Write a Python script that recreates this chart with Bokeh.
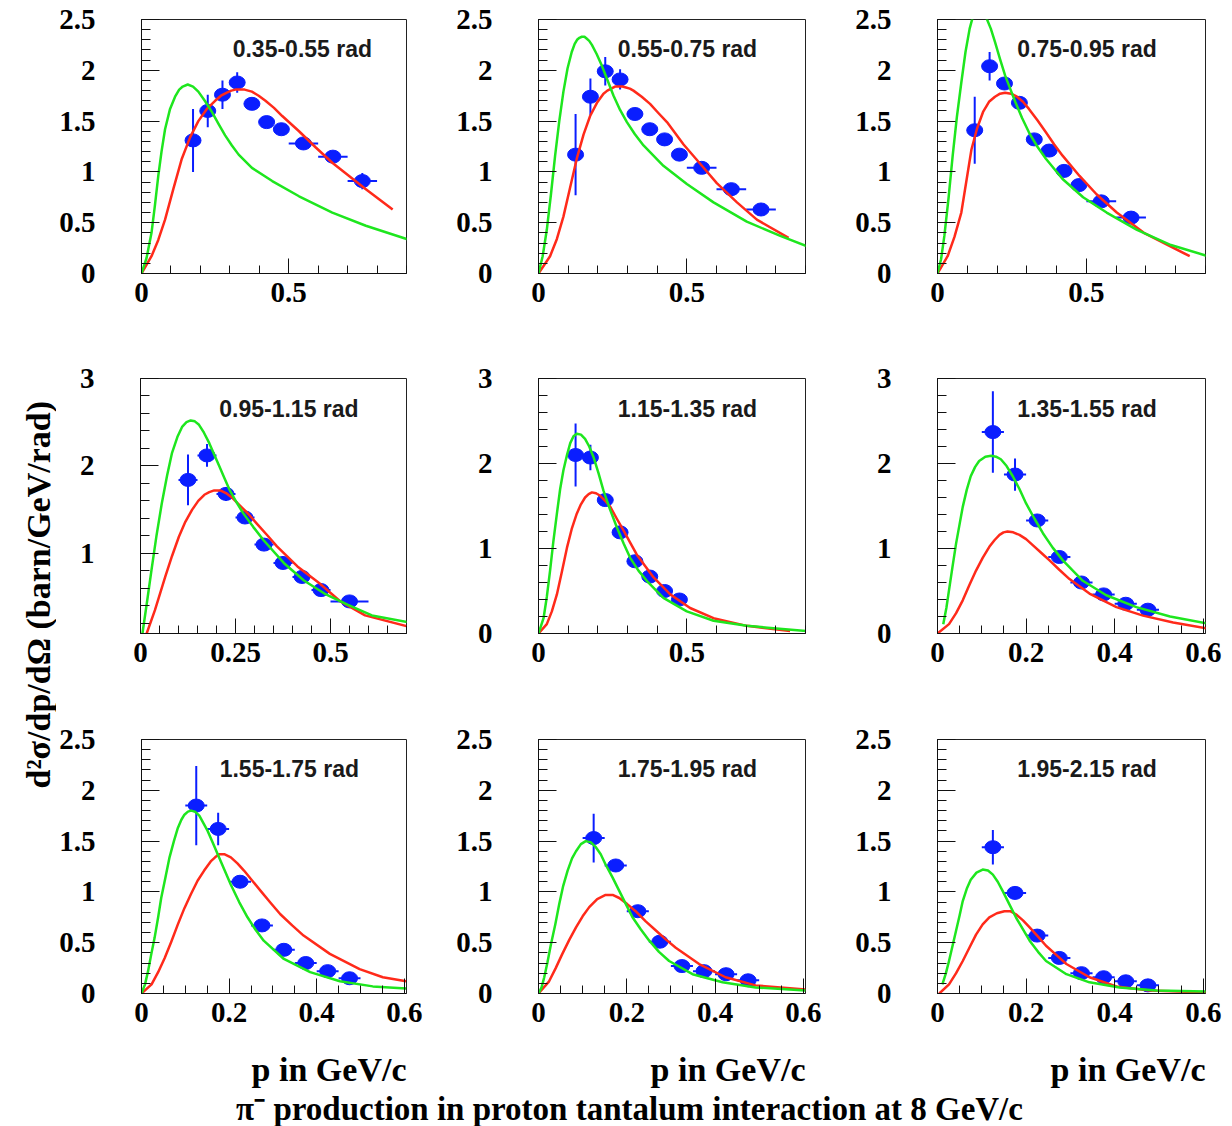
import math
from bokeh.plotting import figure
from bokeh.models import Range1d, FixedTicker, PrintfTickFormatter, Label
from bokeh.layouts import row, column
from bokeh.embed import file_html
from bokeh.resources import INLINE

# ---------------- text ----------------
angle_labels = ["0.35-0.55 rad", "0.55-0.75 rad", "0.75-0.95 rad",
                "0.95-1.15 rad", "1.15-1.35 rad", "1.35-1.55 rad",
                "1.55-1.75 rad", "1.75-1.95 rad", "1.95-2.15 rad"]
x_title = "p in GeV/c"
y_title = "d\u00b2\u03c3/dp/d\u03a9  (barn/GeV/rad)"
main_title = "\u03c0\u207b production in proton tantalum interaction at 8 GeV/c"

# ---------------- tick values ----------------
xticks_a = [0, 0.5]
xticks_b = [0, 0.25, 0.5]
xticks_c = [0, 0.2, 0.4, 0.6]
yticks_a = [0, 0.5, 1, 1.5, 2, 2.5]
yticks_b = [0, 1, 2, 3]

# ---------------- panel 1 : 0.35-0.55 rad ----------------
p1_x = [0.175, 0.225, 0.275, 0.325, 0.375, 0.425, 0.475, 0.55, 0.65, 0.75]
p1_y = [1.31, 1.60, 1.76, 1.88, 1.67, 1.49, 1.42, 1.28, 1.15, 0.91]
p1_ey = [0.31, 0.16, 0.14, 0.10, 0.06, 0.05, 0.05, 0.05, 0.06, 0.08]
p1_ex = [0.025, 0.025, 0.025, 0.025, 0.025, 0.025, 0.025, 0.05, 0.05, 0.05]
p1_gx = [0.0, 0.017, 0.034, 0.046, 0.057, 0.068, 0.080, 0.097, 0.114, 0.128, 0.140, 0.157, 0.175, 0.193, 0.215, 0.239, 0.262, 0.284, 0.307, 0.330, 0.375, 0.444, 0.535, 0.648, 0.762, 0.910]
p1_gy = [0.0, 0.15, 0.40, 0.68, 0.96, 1.20, 1.42, 1.62, 1.74, 1.81, 1.84, 1.86, 1.84, 1.79, 1.70, 1.59, 1.47, 1.36, 1.26, 1.17, 1.04, 0.91, 0.76, 0.60, 0.47, 0.33]
p1_rx = [0.0, 0.034, 0.057, 0.080, 0.108, 0.137, 0.165, 0.193, 0.222, 0.250, 0.270, 0.290, 0.305, 0.319, 0.335, 0.350, 0.375, 0.398, 0.421, 0.450, 0.478, 0.535, 0.592, 0.648, 0.705, 0.762, 0.853]
p1_ry = [0.0, 0.17, 0.33, 0.53, 0.83, 1.13, 1.34, 1.50, 1.62, 1.70, 1.75, 1.78, 1.80, 1.81, 1.81, 1.81, 1.79, 1.75, 1.70, 1.63, 1.55, 1.40, 1.24, 1.09, 0.96, 0.83, 0.63]

# ---------------- panel 2 : 0.55-0.75 rad ----------------
p2_x = [0.125, 0.175, 0.225, 0.275, 0.325, 0.375, 0.425, 0.475, 0.55, 0.65, 0.75]
p2_y = [1.17, 1.74, 1.99, 1.91, 1.57, 1.42, 1.32, 1.17, 1.04, 0.83, 0.63]
p2_ey = [0.40, 0.18, 0.14, 0.10, 0.06, 0.05, 0.05, 0.05, 0.05, 0.06, 0.06]
p2_ex = [0.025, 0.025, 0.025, 0.025, 0.025, 0.025, 0.025, 0.025, 0.05, 0.05, 0.05]
p2_gx = [0.0, 0.014, 0.028, 0.042, 0.056, 0.070, 0.084, 0.098, 0.112, 0.122, 0.130, 0.138, 0.146, 0.155, 0.163, 0.171, 0.180, 0.196, 0.213, 0.233, 0.253, 0.275, 0.298, 0.325, 0.354, 0.421, 0.500, 0.590, 0.702, 0.815, 0.904]
p2_gy = [0.0, 0.17, 0.43, 0.78, 1.16, 1.50, 1.79, 2.02, 2.18, 2.26, 2.30, 2.32, 2.33, 2.33, 2.31, 2.29, 2.25, 2.16, 2.05, 1.90, 1.75, 1.61, 1.49, 1.37, 1.26, 1.06, 0.88, 0.70, 0.51, 0.37, 0.27]
p2_rx = [0.0, 0.039, 0.062, 0.084, 0.106, 0.129, 0.152, 0.174, 0.197, 0.219, 0.232, 0.245, 0.258, 0.270, 0.283, 0.295, 0.308, 0.320, 0.348, 0.376, 0.404, 0.433, 0.461, 0.489, 0.545, 0.601, 0.669, 0.736, 0.843]
p2_ry = [0.0, 0.17, 0.34, 0.56, 0.84, 1.13, 1.37, 1.55, 1.68, 1.77, 1.80, 1.82, 1.84, 1.84, 1.84, 1.83, 1.82, 1.80, 1.74, 1.67, 1.58, 1.49, 1.38, 1.27, 1.08, 0.89, 0.70, 0.53, 0.35]

# ---------------- panel 3 : 0.75-0.95 rad ----------------
p3_x = [0.125, 0.175, 0.225, 0.275, 0.325, 0.375, 0.425, 0.475, 0.55, 0.65]
p3_y = [1.41, 2.04, 1.87, 1.68, 1.32, 1.21, 1.01, 0.87, 0.71, 0.55]
p3_ey = [0.33, 0.14, 0.06, 0.05, 0.05, 0.05, 0.05, 0.05, 0.05, 0.05]
p3_ex = [0.025, 0.025, 0.025, 0.025, 0.025, 0.025, 0.025, 0.025, 0.05, 0.05]
p3_gx = [0.0, 0.012, 0.023, 0.037, 0.051, 0.065, 0.080, 0.094, 0.108, 0.118, 0.128, 0.137, 0.145, 0.155, 0.165, 0.179, 0.193, 0.210, 0.227, 0.244, 0.261, 0.284, 0.307, 0.335, 0.364, 0.420, 0.489, 0.568, 0.670, 0.784, 0.909]
p3_gy = [0.0, 0.14, 0.37, 0.74, 1.16, 1.54, 1.88, 2.18, 2.41, 2.52, 2.58, 2.61, 2.62, 2.58, 2.51, 2.41, 2.28, 2.11, 1.95, 1.82, 1.69, 1.53, 1.39, 1.25, 1.13, 0.93, 0.75, 0.60, 0.43, 0.28, 0.17]
p3_rx = [0.0, 0.034, 0.057, 0.080, 0.097, 0.114, 0.133, 0.153, 0.173, 0.193, 0.210, 0.227, 0.247, 0.267, 0.287, 0.307, 0.335, 0.364, 0.392, 0.420, 0.477, 0.534, 0.602, 0.693, 0.847]
p3_ry = [0.0, 0.17, 0.36, 0.60, 0.91, 1.22, 1.43, 1.59, 1.69, 1.74, 1.77, 1.78, 1.77, 1.74, 1.69, 1.62, 1.51, 1.39, 1.27, 1.16, 0.96, 0.78, 0.60, 0.40, 0.17]

# ---------------- panel 4 : 0.95-1.15 rad ----------------
p4_x = [0.125, 0.175, 0.225, 0.275, 0.325, 0.375, 0.425, 0.475, 0.55]
p4_y = [1.84, 2.12, 1.68, 1.41, 1.10, 0.89, 0.73, 0.58, 0.45]
p4_ey = [0.29, 0.13, 0.08, 0.06, 0.05, 0.05, 0.05, 0.05, 0.05]
p4_ex = [0.025, 0.025, 0.025, 0.025, 0.025, 0.025, 0.025, 0.025, 0.05]
p4_gx = [0.005, 0.017, 0.029, 0.042, 0.056, 0.070, 0.083, 0.097, 0.110, 0.121, 0.132, 0.143, 0.154, 0.167, 0.181, 0.195, 0.208, 0.221, 0.234, 0.252, 0.270, 0.297, 0.324, 0.377, 0.430, 0.484, 0.546, 0.609, 0.707]
p4_gy = [0.08, 0.44, 0.81, 1.20, 1.57, 1.89, 2.15, 2.33, 2.45, 2.50, 2.52, 2.51, 2.47, 2.38, 2.26, 2.12, 1.99, 1.86, 1.73, 1.59, 1.46, 1.30, 1.15, 0.89, 0.69, 0.54, 0.41, 0.29, 0.21]
p4_rx = [0.016, 0.038, 0.065, 0.083, 0.101, 0.118, 0.136, 0.152, 0.168, 0.181, 0.194, 0.210, 0.225, 0.243, 0.261, 0.284, 0.306, 0.333, 0.359, 0.413, 0.470, 0.523, 0.591, 0.707]
p4_ry = [0.08, 0.35, 0.73, 0.97, 1.19, 1.36, 1.50, 1.60, 1.67, 1.70, 1.72, 1.72, 1.69, 1.63, 1.55, 1.45, 1.34, 1.21, 1.08, 0.85, 0.66, 0.46, 0.29, 0.16]

# ---------------- panel 5 : 1.15-1.35 rad ----------------
p5_x = [0.125, 0.175, 0.225, 0.275, 0.325, 0.375, 0.425, 0.475]
p5_y = [2.10, 2.07, 1.57, 1.19, 0.85, 0.67, 0.50, 0.40]
p5_ey = [0.37, 0.15, 0.06, 0.05, 0.05, 0.05, 0.05, 0.05]
p5_ex = [0.025, 0.025, 0.025, 0.025, 0.025, 0.025, 0.025, 0.025]
p5_gx = [0.0, 0.017, 0.028, 0.039, 0.050, 0.062, 0.073, 0.084, 0.096, 0.107, 0.118, 0.129, 0.143, 0.157, 0.171, 0.185, 0.202, 0.219, 0.241, 0.264, 0.287, 0.309, 0.337, 0.365, 0.421, 0.500, 0.590, 0.702, 0.904]
p5_gy = [0.0, 0.18, 0.43, 0.74, 1.08, 1.41, 1.70, 1.92, 2.10, 2.24, 2.32, 2.35, 2.34, 2.29, 2.20, 2.08, 1.89, 1.68, 1.46, 1.25, 1.06, 0.89, 0.74, 0.62, 0.42, 0.26, 0.15, 0.09, 0.03]
p5_rx = [0.0, 0.028, 0.045, 0.062, 0.079, 0.096, 0.112, 0.129, 0.143, 0.157, 0.169, 0.180, 0.194, 0.208, 0.225, 0.242, 0.264, 0.287, 0.309, 0.331, 0.360, 0.388, 0.444, 0.511, 0.590, 0.702, 0.848]
p5_ry = [0.0, 0.11, 0.26, 0.46, 0.73, 1.01, 1.23, 1.41, 1.52, 1.60, 1.64, 1.66, 1.65, 1.62, 1.56, 1.49, 1.35, 1.21, 1.07, 0.93, 0.79, 0.66, 0.46, 0.30, 0.18, 0.09, 0.03]

# ---------------- panel 6 : 1.35-1.55 rad ----------------
p6_x = [0.125, 0.175, 0.225, 0.275, 0.325, 0.375, 0.425, 0.475]
p6_y = [2.37, 1.87, 1.33, 0.90, 0.60, 0.46, 0.35, 0.28]
p6_ey = [0.48, 0.19, 0.07, 0.05, 0.05, 0.04, 0.04, 0.04]
p6_ex = [0.025, 0.025, 0.025, 0.025, 0.025, 0.025, 0.025, 0.025]
p6_gx = [0.013, 0.020, 0.026, 0.034, 0.042, 0.050, 0.057, 0.066, 0.075, 0.085, 0.094, 0.108, 0.121, 0.132, 0.143, 0.156, 0.170, 0.185, 0.200, 0.219, 0.238, 0.260, 0.283, 0.328, 0.381, 0.449, 0.525, 0.608]
p6_gy = [0.11, 0.30, 0.51, 0.79, 1.06, 1.29, 1.49, 1.69, 1.85, 1.96, 2.03, 2.08, 2.09, 2.08, 2.05, 1.97, 1.85, 1.70, 1.53, 1.35, 1.18, 1.01, 0.86, 0.62, 0.45, 0.31, 0.20, 0.12]
p6_rx = [0.0, 0.026, 0.042, 0.057, 0.072, 0.087, 0.102, 0.117, 0.129, 0.140, 0.149, 0.158, 0.171, 0.185, 0.200, 0.215, 0.234, 0.253, 0.275, 0.298, 0.343, 0.404, 0.464, 0.532, 0.608]
p6_ry = [0.0, 0.11, 0.24, 0.39, 0.57, 0.74, 0.89, 1.02, 1.10, 1.16, 1.19, 1.20, 1.19, 1.16, 1.11, 1.04, 0.95, 0.86, 0.75, 0.64, 0.47, 0.31, 0.21, 0.13, 0.06]

# ---------------- panel 7 : 1.55-1.75 rad ----------------
p7_x = [0.125, 0.175, 0.225, 0.275, 0.325, 0.375, 0.425, 0.475]
p7_y = [1.85, 1.62, 1.10, 0.67, 0.43, 0.30, 0.22, 0.15]
p7_ey = [0.39, 0.16, 0.06, 0.05, 0.04, 0.04, 0.04, 0.04]
p7_ex = [0.025, 0.025, 0.025, 0.025, 0.025, 0.025, 0.025, 0.025]
p7_gx = [0.0, 0.008, 0.015, 0.022, 0.030, 0.038, 0.045, 0.055, 0.064, 0.074, 0.083, 0.091, 0.098, 0.106, 0.113, 0.122, 0.132, 0.141, 0.151, 0.162, 0.174, 0.189, 0.204, 0.223, 0.242, 0.260, 0.279, 0.325, 0.385, 0.453, 0.528, 0.604]
p7_gy = [0.0, 0.09, 0.22, 0.38, 0.55, 0.75, 0.94, 1.15, 1.34, 1.50, 1.63, 1.71, 1.76, 1.79, 1.80, 1.79, 1.75, 1.68, 1.60, 1.49, 1.37, 1.22, 1.07, 0.90, 0.75, 0.63, 0.52, 0.34, 0.21, 0.12, 0.07, 0.05]
p7_rx = [0.0, 0.023, 0.038, 0.053, 0.068, 0.083, 0.098, 0.113, 0.128, 0.143, 0.158, 0.168, 0.177, 0.190, 0.204, 0.219, 0.234, 0.253, 0.272, 0.295, 0.317, 0.344, 0.370, 0.430, 0.498, 0.551, 0.604]
p7_ry = [0.0, 0.09, 0.21, 0.35, 0.51, 0.68, 0.84, 0.98, 1.11, 1.21, 1.30, 1.34, 1.37, 1.37, 1.34, 1.28, 1.21, 1.11, 1.01, 0.89, 0.78, 0.67, 0.57, 0.39, 0.24, 0.16, 0.12]

# ---------------- panel 8 : 1.75-1.95 rad ----------------
p8_x = [0.125, 0.175, 0.225, 0.275, 0.325, 0.375, 0.425, 0.475]
p8_y = [1.53, 1.26, 0.81, 0.51, 0.27, 0.22, 0.19, 0.13]
p8_ey = [0.24, 0.06, 0.05, 0.04, 0.04, 0.04, 0.04, 0.04]
p8_ex = [0.025, 0.025, 0.025, 0.025, 0.025, 0.025, 0.025, 0.025]
p8_gx = [0.0, 0.007, 0.013, 0.020, 0.028, 0.038, 0.047, 0.056, 0.066, 0.076, 0.085, 0.096, 0.107, 0.118, 0.130, 0.141, 0.152, 0.168, 0.183, 0.198, 0.213, 0.232, 0.251, 0.273, 0.296, 0.349, 0.417, 0.492, 0.605]
p8_gy = [0.0, 0.06, 0.16, 0.30, 0.48, 0.68, 0.88, 1.06, 1.21, 1.33, 1.40, 1.47, 1.50, 1.49, 1.44, 1.37, 1.27, 1.14, 1.01, 0.88, 0.75, 0.63, 0.52, 0.41, 0.32, 0.19, 0.11, 0.06, 0.03]
p8_rx = [0.0, 0.024, 0.039, 0.054, 0.070, 0.085, 0.100, 0.115, 0.133, 0.152, 0.168, 0.183, 0.201, 0.220, 0.243, 0.266, 0.289, 0.311, 0.364, 0.424, 0.492, 0.605]
p8_ry = [0.0, 0.12, 0.25, 0.39, 0.53, 0.65, 0.76, 0.85, 0.93, 0.97, 0.97, 0.94, 0.88, 0.81, 0.71, 0.62, 0.53, 0.45, 0.29, 0.16, 0.08, 0.04]

# ---------------- panel 9 : 1.95-2.15 rad ----------------
p9_x = [0.125, 0.175, 0.225, 0.275, 0.325, 0.375, 0.425, 0.475]
p9_y = [1.44, 0.99, 0.57, 0.35, 0.20, 0.16, 0.12, 0.08]
p9_ey = [0.17, 0.05, 0.05, 0.04, 0.04, 0.04, 0.04, 0.04]
p9_ex = [0.025, 0.025, 0.025, 0.025, 0.025, 0.025, 0.025, 0.025]
p9_gx = [0.011, 0.019, 0.026, 0.034, 0.042, 0.050, 0.057, 0.066, 0.075, 0.088, 0.102, 0.114, 0.125, 0.136, 0.147, 0.162, 0.177, 0.193, 0.208, 0.227, 0.245, 0.291, 0.343, 0.411, 0.494, 0.608]
p9_gy = [0.09, 0.20, 0.32, 0.47, 0.62, 0.77, 0.91, 1.03, 1.12, 1.19, 1.22, 1.21, 1.17, 1.10, 1.01, 0.88, 0.75, 0.63, 0.52, 0.41, 0.32, 0.19, 0.11, 0.06, 0.03, 0.02]
p9_rx = [0.004, 0.026, 0.042, 0.057, 0.072, 0.087, 0.102, 0.117, 0.134, 0.151, 0.164, 0.177, 0.193, 0.208, 0.227, 0.245, 0.268, 0.291, 0.343, 0.404, 0.479, 0.608]
p9_ry = [0.0, 0.09, 0.20, 0.32, 0.45, 0.58, 0.68, 0.75, 0.79, 0.81, 0.81, 0.78, 0.72, 0.65, 0.56, 0.47, 0.38, 0.29, 0.16, 0.07, 0.03, 0.01]

panels = [
    (p1_x, p1_y, p1_ey, p1_ex, p1_gx, p1_gy, p1_rx, p1_ry),
    (p2_x, p2_y, p2_ey, p2_ex, p2_gx, p2_gy, p2_rx, p2_ry),
    (p3_x, p3_y, p3_ey, p3_ex, p3_gx, p3_gy, p3_rx, p3_ry),
    (p4_x, p4_y, p4_ey, p4_ex, p4_gx, p4_gy, p4_rx, p4_ry),
    (p5_x, p5_y, p5_ey, p5_ex, p5_gx, p5_gy, p5_rx, p5_ry),
    (p6_x, p6_y, p6_ey, p6_ex, p6_gx, p6_gy, p6_rx, p6_ry),
    (p7_x, p7_y, p7_ey, p7_ex, p7_gx, p7_gy, p7_rx, p7_ry),
    (p8_x, p8_y, p8_ey, p8_ex, p8_gx, p8_gy, p8_rx, p8_ry),
    (p9_x, p9_y, p9_ey, p9_ex, p9_gx, p9_gy, p9_rx, p9_ry),
]

# ---------------- per panel axes setup (layout, not data) ----------------
x_ranges = [(0, 0.9), (0, 0.9), (0, 0.9),
            (0, 0.7), (0, 0.9), (0, 0.605),
            (0, 0.605), (0, 0.605), (0, 0.605)]
y_ranges = [(0, 2.5), (0, 2.5), (0, 2.5),
            (0.083, 3.0), (0, 3.0), (0, 3.0),
            (0, 2.5), (0, 2.5), (0, 2.5)]
x_major = [xticks_a, xticks_a, xticks_a, xticks_b, xticks_a, xticks_c, xticks_c, xticks_c, xticks_c]
x_minor_step = [0.1, 0.1, 0.1, 0.05, 0.1, 0.05, 0.05, 0.05, 0.05]
y_major = [yticks_a, yticks_a, yticks_a, yticks_b, yticks_b, yticks_b, yticks_a, yticks_a, yticks_a]
y_minor_step = [0.1, 0.1, 0.1, 0.2, 0.2, 0.2, 0.1, 0.1, 0.1]
label_fx = [0.607, 0.558, 0.558, 0.558, 0.558, 0.558, 0.558, 0.558, 0.558]
label_fy = 0.882

col_w = [376, 398, 402]
col_bl = [84, 106, 107]
col_br = [26, 25, 27]
frame_right = [406, 805, 1205]
row_h = [358, 360, 327]
row_bt = [19, 20, 21]
row_bb = [85, 85, 52]
PAGE_H = 1126
bottom_h = PAGE_H - sum(row_h)

SERIF = "Liberation Serif"
SANS = "Liberation Sans"
BLUE = "#0a1eff"
GREEN = "#1ee61e"
RED = "#ff2a1a"


def minor_list(step, end):
    n = int(round(end / step))
    return [round(i * step, 3) for i in range(1, n + 1)]


def make_panel(k):
    r, c = divmod(k, 3)
    xs, ys, eys, exs, gx, gy, rx, ry = panels[k]
    xr, yr = x_ranges[k], y_ranges[k]
    p = figure(width=col_w[c], height=row_h[r],
               x_range=Range1d(*xr), y_range=Range1d(*yr),
               output_backend="svg", toolbar_location=None, tools="",
               min_border_left=col_bl[c], min_border_right=col_br[c],
               min_border_top=row_bt[r], min_border_bottom=row_bb[r])
    p.xgrid.visible = False
    p.ygrid.visible = False
    p.background_fill_color = "white"
    p.border_fill_color = "white"
    p.outline_line_color = "#222222"
    p.outline_line_width = 1

    xa, ya = p.xaxis[0], p.yaxis[0]
    xa.ticker = FixedTicker(ticks=x_major[k], minor_ticks=minor_list(x_minor_step[k], 0.9))
    ya.ticker = FixedTicker(ticks=y_major[k], minor_ticks=minor_list(y_minor_step[k], 3.0))
    for ax in (xa, ya):
        ax.formatter = PrintfTickFormatter(format="%g")
        ax.major_tick_out = 0
        ax.minor_tick_out = 0
        ax.axis_line_color = "#111111"
        ax.major_tick_line_color = "#111111"
        ax.minor_tick_line_color = "#111111"
        ax.major_label_text_font = SERIF
        ax.major_label_text_font_style = "bold"
        ax.major_label_text_font_size = "29px"
        ax.major_label_text_color = "#000000"
    xa.major_tick_in = 15
    xa.minor_tick_in = 8
    ya.major_tick_in = 18
    ya.minor_tick_in = 9
    xa.major_label_standoff = 9
    ya.major_label_standoff = 46

    # error bars
    p.segment(x0=xs, y0=[y - e for y, e in zip(ys, eys)], x1=xs, y1=[y + e for y, e in zip(ys, eys)],
              line_color=BLUE, line_width=2)
    p.segment(x0=[x - e for x, e in zip(xs, exs)], y0=ys, x1=[x + e for x, e in zip(xs, exs)], y1=ys,
              line_color=BLUE, line_width=2)
    p.ellipse(x=xs, y=ys, width=16, height=13, width_units="screen", height_units="screen",
              fill_color=BLUE, line_color=BLUE)
    # model curves
    p.line(rx, ry, line_color=RED, line_width=2.5, line_join="round")
    p.line(gx, gy, line_color=GREEN, line_width=2.5, line_join="round")

    p.add_layout(Label(x=xr[0] + label_fx[k] * (xr[1] - xr[0]),
                       y=yr[0] + label_fy * (yr[1] - yr[0]),
                       text=angle_labels[k], text_align="center", text_baseline="middle",
                       text_font=SANS, text_font_style="bold", text_font_size="23px",
                       text_color="#1a1a1a"))
    return p


figs = [make_panel(k) for k in range(9)]
grid = column(row(figs[0], figs[1], figs[2]),
              row(figs[3], figs[4], figs[5]),
              row(figs[6], figs[7], figs[8]))

strip_h = sum(row_h)
strip = figure(width=56, height=strip_h, x_range=Range1d(0, 56), y_range=Range1d(0, strip_h),
               output_backend="svg", toolbar_location=None, tools="",
               x_axis_type=None, y_axis_type=None, min_border=0)
strip.xgrid.visible = False
strip.ygrid.visible = False
strip.outline_line_color = None
strip.add_layout(Label(x=38, y=strip_h - 590, text=y_title, angle=math.pi / 2,
                       text_align="center", text_baseline="middle",
                       text_font=SERIF, text_font_style="bold", text_font_size="34px",
                       text_color="#000000"))

# bottom strip: x-axis titles (right aligned to each frame) and the overall caption
bottom = figure(width=1232, height=bottom_h, x_range=Range1d(0, 1232), y_range=Range1d(0, bottom_h),
                output_backend="svg", toolbar_location=None, tools="",
                x_axis_type=None, y_axis_type=None, min_border=0)
bottom.xgrid.visible = False
bottom.ygrid.visible = False
bottom.outline_line_color = None
for xr_px in frame_right:
    bottom.add_layout(Label(x=xr_px, y=PAGE_H - 1069, text=x_title, text_align="right",
                            text_baseline="middle", text_font=SERIF, text_font_style="bold",
                            text_font_size="34px", text_color="#000000"))
bottom.add_layout(Label(x=629, y=PAGE_H - 1108, text=main_title, text_align="center",
                        text_baseline="middle", text_font=SERIF, text_font_style="bold",
                        text_font_size="33px", text_color="#000000"))

layout = column(row(strip, grid), bottom)

open("out.html", "w").write(file_html(layout, INLINE))
